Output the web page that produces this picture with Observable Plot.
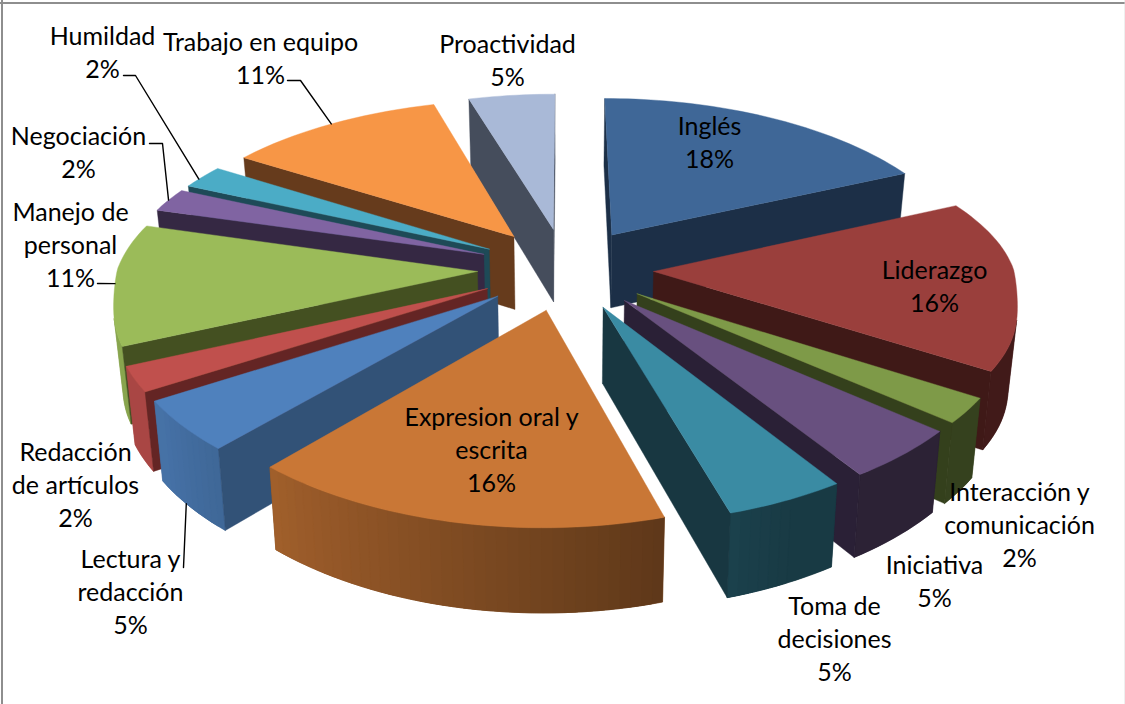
<!DOCTYPE html>
<html><head><meta charset="utf-8">
<script src="https://cdn.jsdelivr.net/npm/d3@7"></script>
<script src="https://cdn.jsdelivr.net/npm/@observablehq/plot@0.6"></script>
<style>html,body{margin:0;padding:0;background:#fff}svg{display:block}</style>
</head><body><div id="chart"></div>
<script>
// ---- data ----
const categories = ["Inglés","Liderazgo","Interacción y\ncomunicación","Iniciativa","Toma de\ndecisiones","Expresion oral y\nescrita","Lectura y\nredacción","Redacción\nde artículos","Manejo de\npersonal","Negociación","Humildad","Trabajo en equipo","Proactividad"];
const counts = [8,7,1,2,2,7,2,1,5,1,1,5,2];
const topColors = ["#3F6797","#9A3F3C","#7E9A48","#68507F","#3A8BA3","#C97736","#4F81BD","#C0504D","#9BBB59","#8064A2","#4BACC6","#F79646","#A9B9D7"];
const sideColors = ["#1C2F47","#3F1917","#34401C","#2A2036","#183741","#5A3717","#325277","#642524","#445021","#352843","#1E4A57","#663B1C","#454D5C"];
const paintOrder = [12,0,11,10,9,1,8,2,7,3,6,4,5];
// ---- annotation layout (pixels of the 1125x704 canvas) ----
const labelX = [709,934,1019,934,834,491,130,75,70,78,102,260,507];
const labelY = [142,286,525,581,639,450,592,485,245,152,52,58,60];
const leaderStarts = {6:[[183,567]],8:[[97,283]],9:[[149,143],[162,143]],10:[[123,75],[135,75]],11:[[287,80],[300,80]]};
const leaderAngleShift = {6:1,8:0,9:0,10:-1,11:0};
const leaderOnBase = {6:true};
// ---- projection of the exploded pie ----
const cx=565, cy=268, rx=364, ry=168, explode=0.245, ky=0.159;
const total=d3.sum(counts);
const rad=d=>d*Math.PI/180;
function topPoint(i,deg){
  const c0=d3.sum(counts.slice(0,i)), mid=(c0+counts[i]/2)/total*2*Math.PI;
  const u=explode*Math.sin(mid)+(deg==null?0:Math.sin(rad(deg)));
  const v=explode*Math.cos(mid)+(deg==null?0:Math.cos(rad(deg)));
  const kx=v>0?(u<0?0.19-0.03*Math.min(1,v/0.4):0.19):0.13;
  const sx=1/(1+kx*v)-0.016*Math.exp(-(((v+0.15)/0.25)**2));
  return [cx+rx*u*sx, cy-ry*v/(1+ky*v)];
}
const bottomOf=p=>[cx+(p[0]-cx)*0.98, p[1]+63+0.042*p[1]];
function area(ps){let a=0;ps.forEach((p,j)=>{const q=ps[(j+1)%ps.length];a+=p[0]*q[1]-q[0]*p[1];});return a/2;}
function shade(hex,f){const c=d3.rgb(hex);return d3.rgb(c.r*f,c.g*f,c.b*f).formatHex();}
function outerRatio(deg){
  if(deg<=155) return 0.42;
  if(deg>=235) return 0.88;
  return 0.42+(deg-155)/80*0.46;
}
const polys=[];let pid=0;
function addPoly(ps,color){const id=pid++;[...ps,ps[0]].forEach(p=>polys.push({id,x:p[0],y:p[1],color}));}
function wall(pts){return [...pts,...pts.slice().reverse().map(bottomOf)];}
paintOrder.forEach(i=>{
  const a0=d3.sum(counts.slice(0,i))/total*360, a1=a0+counts[i]/total*360;
  const steps=Math.max(2,Math.round((a1-a0)/1.5));
  const arc=d3.range(steps+1).map(k=>a0+(a1-a0)*k/steps);
  const apex=topPoint(i), arcTop=arc.map(d=>topPoint(i,d));
  const visible=d3.range(steps).filter(k=>{
    const A=arcTop[k],B=arcTop[k+1];return area([A,B,bottomOf(B),bottomOf(A)])<0;
  });
  if(visible.length){
    const first=visible[0],last=visible[visible.length-1];
    const colorAt=k=>shade(topColors[i],outerRatio((arc[k]+arc[k+1])/2));
    // one piece under everything, then bands of equal colour, each lapping under the next
    addPoly(wall(arcTop.slice(first,last+2)),colorAt(visible[visible.length>>1]));
    let start=first;
    for(let k=first;k<=last;k++){
      if(k===last||colorAt(k+1)!==colorAt(start)){
        addPoly(wall(arcTop.slice(start,Math.min(k+3,last+2))),colorAt(start));
        start=k+1;
      }
    }
  }
  // the two radial walls
  [[apex,arcTop[0]],[arcTop[steps],apex]].forEach(([A,B])=>{
    const q=[A,B,bottomOf(B),bottomOf(A)];
    if(area(q)<0) addPoly(q,sideColors[i]);
  });
  addPoly([apex,...arcTop],topColors[i]);
});
const labels=categories.map((c,i)=>({text:c+"\n"+Math.round(counts[i]/total*100)+"%",x:labelX[i],y:labelY[i]-2}));
const leaders=[];
Object.entries(leaderStarts).forEach(([k,ps])=>{
  const i=+k,a0=d3.sum(counts.slice(0,i))/total*360,a1=a0+counts[i]/total*360;
  const t=topPoint(i,(a0+a1)/2+leaderAngleShift[i]);
  const end=leaderOnBase[i]?bottomOf(t):t;
  [...ps,end].forEach(p=>leaders.push({id:i,x:p[0],y:p[1]}));
});
const chart=Plot.plot({
  width:1125,height:704,margin:0,
  x:{domain:[0,1125],range:[0,1125],axis:null},
  y:{domain:[0,704],range:[0,704],axis:null},
  color:{type:"identity"},
  style:{background:"#fff"},
  marks:[
    Plot.ruleY([2.5],{stroke:"#8e8e8e",strokeWidth:2}),
    Plot.ruleX([1.5],{stroke:"#8e8e8e",strokeWidth:2}),
    Plot.ruleX([1124.5],{stroke:"#dedede",strokeWidth:1}),
    Plot.line(polys,{x:"x",y:"y",z:"id",fill:"color",stroke:"color",strokeWidth:0.4,curve:"linear"}),
    Plot.line(leaders,{x:"x",y:"y",z:"id",stroke:"#000",strokeWidth:1.4,curve:"linear"}),
    Plot.text(labels,{x:"x",y:"y",text:"text",fontFamily:"Lato",fontSize:25,lineHeight:1.32,fill:"#000",lineAnchor:"middle",textAnchor:"middle"})
  ]
});
document.getElementById("chart").appendChild(chart);
</script></body></html>
